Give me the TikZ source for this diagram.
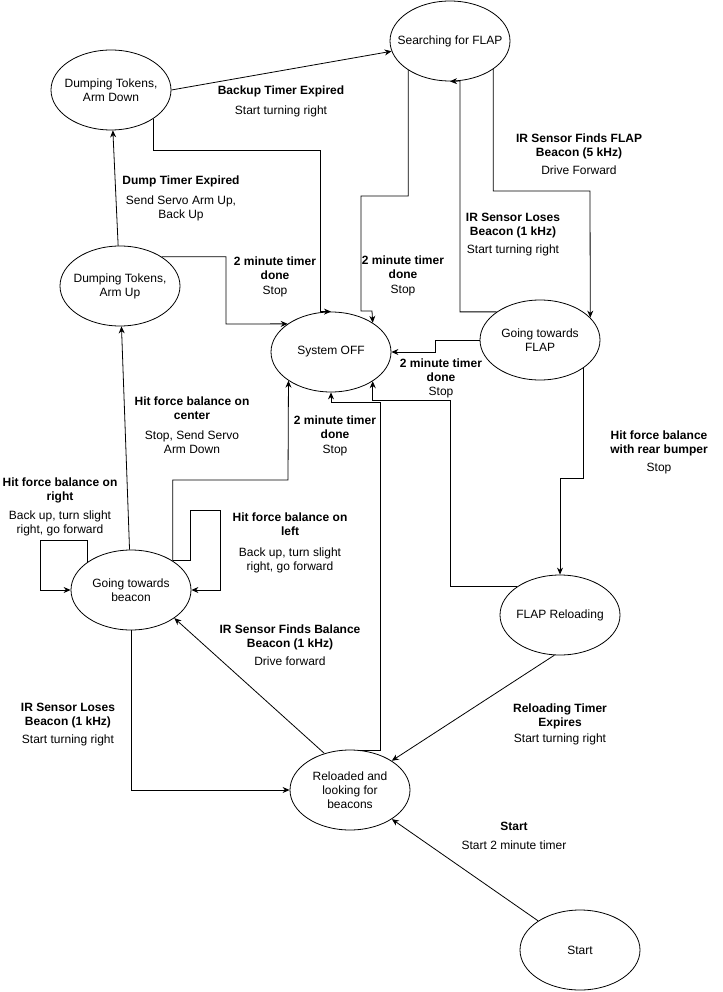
\documentclass[tikz,border=0pt]{standalone}
\usepackage{fontspec}
\setmainfont{Liberation Sans}
\usetikzlibrary{arrows.meta, shapes.geometric}

\begin{document}
\begin{tikzpicture}[x=1pt, y=-1pt, line width=0.8pt,
	st/.style={ellipse, draw, minimum width=120pt, minimum height=80pt, inner xsep=-15pt, inner ysep=0pt, align=center, font=\fontsize{12}{14}\selectfont},
	lbl/.style={align=center, font=\fontsize{12}{14}\selectfont},
	>={Stealth[length=7pt, width=6pt]}]
	     \useasboundingbox (0,0) rectangle (722,992);

	     % nodes %
		 \node[st] (down) at (111,90) {Dumping Tokens,\\Arm Down};
		 \node[st] (search) at (450,41) {Searching for FLAP};
		 \node[st] (up) at (120,286) {Dumping Tokens,\\Arm Up};
		 \node[st] (off) at (331,352) {System OFF};
		 \node[st] (gflap) at (540,340) {Going towards\\FLAP};
		 \node[st] (gbeacon) at (131,590) {Going towards\\beacon};
		 \node[st] (reload) at (560,615) {FLAP Reloading};
		 \node[st] (look) at (350,790) {Reloaded and\\looking for\\beacons};
		 \node[st] (start) at (580,950) {Start};

		 % labels %
		 \node[lbl] (l1) at (281,101) {\textbf{Backup Timer Expired}\\[6pt]Start turning right};
		 \node[lbl] (l2) at (181,198) {\textbf{Dump Timer Expired}\\[6pt]Send Servo Arm Up,\\Back Up};
		 \node[lbl] (l3) at (275,277) {\textbf{2 minute timer}\\\textbf{done}\\[1pt]Stop};
		 \node[lbl] (l4) at (403,276) {\textbf{2 minute timer}\\\textbf{done}\\[1pt]Stop};
		 \node[lbl] (l5) at (579,154) {\textbf{IR Sensor Finds FLAP}\\\textbf{Beacon (5 kHz)}\\[4pt]Drive Forward};
		 \node[lbl] (l6) at (513,235) {\textbf{IR Sensor Loses}\\\textbf{Beacon (1 kHz)}\\[4pt]Start turning right};
		 \node[lbl] (l7) at (441,378) {\textbf{2 minute timer}\\\textbf{done}\\Stop};
		 \node[lbl] (l8) at (659,452) {\textbf{Hit force balance}\\\textbf{with rear bumper}\\[4pt]Stop};
		 \node[lbl] (l9) at (192,425) {\textbf{Hit force balance on}\\\textbf{center}\\[6pt]Stop, Send Servo\\Arm Down};
		 \node[lbl] (l10) at (335,436) {\textbf{2 minute timer}\\\textbf{done}\\[1pt]Stop};
		 \node[lbl] (l11) at (60,507) {\textbf{Hit force balance on}\\\textbf{right}\\[5pt]Back up, turn slight\\right, go forward};
		 \node[lbl] (l12) at (290,543) {\textbf{Hit force balance on}\\\textbf{left}\\[7pt]Back up, turn slight\\right, go forward};
		 \node[lbl] (l13) at (290,645) {\textbf{IR Sensor Finds Balance}\\\textbf{Beacon (1 kHz)}\\[4pt]Drive forward};
		 \node[lbl] (l14) at (68,725) {\textbf{IR Sensor Loses}\\\textbf{Beacon (1 kHz)}\\[4pt]Start turning right};
		 \node[lbl] (l15) at (560,724) {\textbf{Reloading Timer}\\\textbf{Expires}\\[2pt]Start turning right};
		 \node[lbl] (l16) at (514,836) {\textbf{Start}\\[5pt]Start 2 minute timer};

		 % edges %
		 \draw[->] (down.east) -- (search);
		 \draw[->] (down.-34) |- (320,150) |- (off.north);
		 \draw[->] (up) -- (down);
		 \draw[->] (up.35) -| (226,324) -- (off.147);
		 \draw[->] (search.-145) |- (361,196) |- (372,311) -- (off.35);
		 \draw[->] (search.-33) |- (590,191) -- (gflap.24);
		 \draw[->] (gflap.147) -| (460,81) -- (search.south);
		 \draw[->] (gflap.west) -| (435,352) -- (off.east);
		 \draw[->] (gflap.-33) |- (560,478) -- (reload.north);
		 \draw[->] (reload.147) -| (450,400) -| (off.-35);
		 \draw[->] (reload.-98) -- (look.35);
		 \draw[->] (gbeacon) -- (up);
		 \draw[->] (gbeacon.35) |- (288,480) -- (off.214);
		 \draw[->] (gbeacon.147) |- (40,540) |- (gbeacon.west);
		 \draw[->] (gbeacon.35) -| (190,510) -| (220,590) -- (gbeacon.east);
		 \draw[->] (gbeacon.south) |- (look.west);
		 \draw[->] (look.125) -- (gbeacon.-33);
		 \draw[->] (look.76) -| (380,402) -| (off.south);
		 \draw[->] (start) -- (look);
	     \end{tikzpicture}
\end{document}
